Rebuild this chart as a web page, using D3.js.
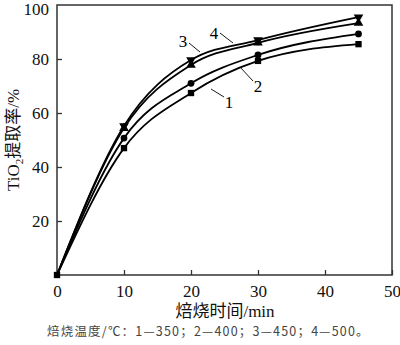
<!DOCTYPE html>
<html><head><meta charset="utf-8">
<script src="https://cdn.jsdelivr.net/npm/d3@7"></script>
<style>body{margin:0;background:#fff}svg{display:block}</style>
</head><body><svg id="c" width="400" height="345"></svg>
<script>
const xTicks = [0, 10, 20, 30, 40, 50];
const yTicks = [20, 40, 60, 80, 100];
const times = [0, 10, 20, 30, 45];
const s1 = [0, 47, 67.4, 79.3, 85.5];
const s2 = [0, 50.7, 71, 81.5, 89.3];
const s3 = [0, 54.4, 77.8, 86, 93.3];
const s4 = [0, 55.2, 79.6, 87, 95.5];
const seriesNames = ["1", "2", "3", "4"];
const markers = ["square", "circle", "triangleUp", "triangleDown"];
const xLabel = "焙烧时间/min";
const caption = "焙烧温度/℃：1—350；2—400；3—450；4—500。";

const svg = d3.select("#c");
const m = {l:57, r:392, t:5, b:275};
const x = d3.scaleLinear().domain([0,50]).range([m.l, m.r]);
const y = d3.scaleLinear().domain([0,100]).range([m.b, m.t]);
const serif = "'Liberation Serif','Times New Roman',serif";
const cjk = "'Liberation Serif','Noto Sans CJK SC',serif";

svg.append("rect").attr("x",m.l).attr("y",m.t).attr("width",m.r-m.l).attr("height",m.b-m.t)
  .attr("fill","none").attr("stroke","#333").attr("stroke-width",1.5);

const xa = svg.append("g").attr("transform",`translate(0,${m.b})`)
  .call(d3.axisBottom(x).tickValues(xTicks).tickSize(-5).tickPadding(10).tickFormat(d3.format("d")));
const ya = svg.append("g").attr("transform",`translate(${m.l},0)`)
  .call(d3.axisLeft(y).tickValues(yTicks).tickSize(-5).tickPadding(8).tickFormat(d3.format("d")));
[xa, ya].forEach(a=>{
  a.select(".domain").remove();
  a.selectAll("line").attr("stroke","#333").attr("stroke-width",1.3);
  a.selectAll("text").attr("font-family",serif).attr("font-size",17).attr("fill","#111");
});
ya.selectAll(".tick").filter(d=>d===100).select("line").remove();
ya.selectAll(".tick").filter(d=>d===100).select("text").attr("dy","0.38em").attr("y",3);

const data = [s1,s2,s3,s4];
const line = d3.line().x((d,i)=>x(times[i])).y(d=>y(d)).curve(d3.curveMonotoneX);
data.forEach(s=>{
  svg.append("path").attr("d",line(s)).attr("fill","none").attr("stroke","#000").attr("stroke-width",1.8);
});
const sym = {
  square: d3.symbolSquare, circle: d3.symbolCircle,
  triangleUp: d3.symbolTriangle, triangleDown: d3.symbolTriangle
};
data.forEach((s,k)=>{
  s.forEach((v,i)=>{
    if(i===0 && k>0) return;
    svg.append("path").attr("d", d3.symbol().type(sym[markers[k]]).size(markers[k]==="circle"?36:40)())
      .attr("fill","#000")
      .attr("transform",`translate(${x(times[i])},${y(v)})` + (markers[k]==="triangleDown"?" rotate(180)":""));
  });
});

const lbls = [
  {t:"1", lx:229, ly:108, x1:224, y1:97, x2:211, y2:89},
  {t:"2", lx:258, ly:92, x1:253, y1:81, x2:240, y2:67},
  {t:"3", lx:183, ly:47, x1:189, y1:43, x2:200, y2:52},
  {t:"4", lx:214, ly:39, x1:220, y1:33, x2:233, y2:43}
];
lbls.forEach((d,i)=>{
  svg.append("line").attr("x1",d.x1).attr("y1",d.y1).attr("x2",d.x2).attr("y2",d.y2)
    .attr("stroke","#000").attr("stroke-width",0.9);
  svg.append("text").attr("x",d.lx).attr("y",d.ly).attr("text-anchor","middle")
    .attr("font-family",serif).attr("font-size",17).text(seriesNames[i]);
});

svg.append("text").attr("x",225).attr("y",317).attr("text-anchor","middle")
  .attr("font-family",cjk).attr("font-size",17).attr("fill","#111").text(xLabel);
const yt = svg.append("text").attr("transform","translate(19,140) rotate(-90)").attr("text-anchor","middle")
  .attr("font-family",cjk).attr("font-size",17).attr("fill","#111");
yt.append("tspan").text("TiO");
yt.append("tspan").attr("font-size",11).attr("dy",4).text("2");
yt.append("tspan").attr("dy",-4).text("提取率/%");

svg.append("text").attr("x",47).attr("y",336).attr("font-family","'Noto Sans CJK SC',sans-serif")
  .attr("font-size",12.5).attr("letter-spacing",1.2).attr("fill","#444").text(caption);
</script></body></html>
